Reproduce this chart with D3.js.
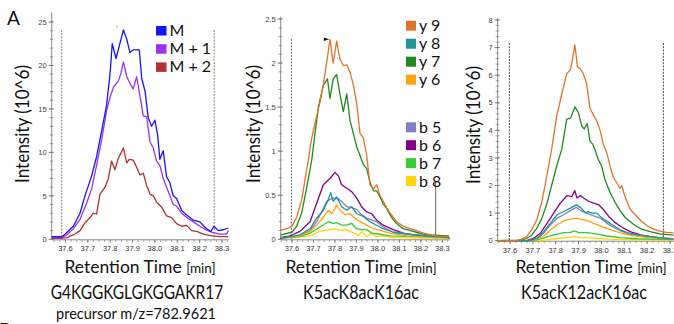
<!DOCTYPE html>
<html><head><meta charset="utf-8">
<script src="https://cdn.jsdelivr.net/npm/d3@7"></script>
<style>body{margin:0;background:#fff}svg{display:block}</style>
</head><body>
<svg id="c" width="674" height="324"></svg>
<script>
// ---------------- DATA ----------------
const xTickValues = [37.6, 37.7, 37.8, 37.9, 38.0, 38.1, 38.2, 38.3];
const xTickLabels = ["37.6", "37.7", "37.8", "37.9", "38.0", "38.1", "38.2", "38.3"];
const p1YTicks = [0, 5, 10, 15, 20, 25];
const p2YTicks = [0, 0.5, 1, 1.5, 2, 2.5];
const p2YLabels = ["0", "0.5", "1", "1.5", "2", "2.5"];
const p3YTicks = [0, 1, 2, 3, 4, 5, 6, 7, 8];

const p1Names = ["M", "M + 1", "M + 2"];
const p1Colors = ["#1414ff", "#9a33ec", "#b03232"];
const fragNamesY = ["y 9", "y 8", "y 7", "y 6"];
const fragNamesB = ["b 5", "b 6", "b 7", "b 8"];
const fragColorsY = ["#e0742c", "#1f9595", "#22891f", "#ffa30a"];
const fragColorsB = ["#7f7fc8", "#850085", "#35cc35", "#ffd500"];

const p1Bounds = [37.583, 38.265];
const p2Bounds = [37.597, 38.269];
const p3Bounds = [37.597, 38.271];
const p1Mark = [37.830];
const p2Arrow = [37.762, 2.27];

const p1M = [[37.538,0.3],[37.583,0.3],[37.599,0.6],[37.635,1.5],[37.665,3.0],[37.687,5.0],[37.717,7.3],[37.739,9.5],[37.762,12.5],[37.784,15.5],[37.799,19],[37.809,22.5],[37.826,20.8],[37.841,22.3],[37.859,24.1],[37.874,23],[37.888,21.5],[37.903,21.8],[37.930,21.8],[37.941,18.5],[37.956,17],[37.970,14],[37.985,13],[38.000,13.7],[38.012,12],[38.022,9.2],[38.037,10.2],[38.052,7.2],[38.067,6.5],[38.082,5],[38.097,4.7],[38.120,3.3],[38.142,2.8],[38.172,2.2],[38.201,2.0],[38.227,1.3],[38.250,0.9],[38.264,1.5],[38.283,1.0],[38.306,1.1],[38.328,1.3]];
const p1M1 = [[37.538,0.2],[37.583,0.2],[37.605,0.5],[37.635,1.2],[37.665,2.3],[37.695,4.2],[37.717,5.8],[37.739,8.5],[37.762,11.5],[37.784,14.8],[37.799,16.3],[37.814,17.5],[37.836,18.2],[37.847,19],[37.859,20.4],[37.874,18.7],[37.891,17.8],[37.903,17.3],[37.918,18.7],[37.933,16.5],[37.948,14.2],[37.963,14.1],[37.978,11.2],[37.993,10.5],[38.007,9.0],[38.022,8.5],[38.037,7.0],[38.052,6.0],[38.067,5.0],[38.082,4.0],[38.097,3.8],[38.120,3.0],[38.142,2.5],[38.172,2.0],[38.201,1.5],[38.227,1.1],[38.256,0.8],[38.291,0.6],[38.321,0.6],[38.328,1.0]];
const p1M2 = [[37.538,0.1],[37.583,0.1],[37.605,0.2],[37.635,0.5],[37.665,1.0],[37.687,1.9],[37.710,2.5],[37.724,3.0],[37.739,2.9],[37.754,5.2],[37.777,6.0],[37.792,7.0],[37.806,9.0],[37.821,8.0],[37.836,9.3],[37.859,10.5],[37.874,8.8],[37.885,9.2],[37.903,9.1],[37.918,8.3],[37.933,7.4],[37.948,7.6],[37.963,6.2],[37.978,5.2],[37.993,5.0],[38.007,4.3],[38.030,3.7],[38.052,2.7],[38.075,2.5],[38.097,1.8],[38.120,1.5],[38.142,1.6],[38.164,1.0],[38.187,0.9],[38.216,0.6],[38.256,0.4],[38.291,0.3],[38.328,0.3]];

const p2y9 = [[37.547,0.1],[37.575,0.12],[37.6,0.15],[37.622,0.25],[37.645,0.45],[37.668,0.78],[37.692,1.15],[37.715,1.4],[37.730,1.55],[37.746,1.75],[37.761,2.0],[37.777,2.27],[37.792,2.0],[37.808,2.25],[37.823,2.05],[37.839,1.97],[37.855,1.98],[37.870,1.9],[37.886,1.75],[37.901,1.55],[37.917,1.2],[37.932,1.15],[37.948,0.95],[37.963,0.62],[37.979,0.57],[37.994,0.62],[38.010,0.5],[38.025,0.43],[38.041,0.36],[38.056,0.3],[38.072,0.25],[38.087,0.2],[38.118,0.15],[38.149,0.12],[38.180,0.1],[38.212,0.07],[38.243,0.05],[38.274,0.04],[38.331,0.03]];
const p2y8 = [[37.544,0.01],[37.637,0.05],[37.684,0.12],[37.715,0.24],[37.746,0.33],[37.769,0.45],[37.780,0.53],[37.792,0.43],[37.808,0.48],[37.831,0.37],[37.855,0.33],[37.878,0.37],[37.901,0.29],[37.932,0.26],[37.963,0.2],[37.994,0.16],[38.025,0.12],[38.072,0.08],[38.134,0.06],[38.211,0.04],[38.335,0.02]];
const p2y7 = [[37.547,0.05],[37.6,0.08],[37.622,0.15],[37.645,0.3],[37.668,0.58],[37.692,0.9],[37.707,1.2],[37.723,1.5],[37.746,1.75],[37.765,1.82],[37.777,1.6],[37.792,1.82],[37.808,1.87],[37.823,1.65],[37.839,1.45],[37.855,1.65],[37.870,1.35],[37.886,1.2],[37.901,1.05],[37.917,0.95],[37.932,0.85],[37.948,0.8],[37.963,0.65],[37.979,0.55],[37.994,0.55],[38.010,0.48],[38.025,0.4],[38.041,0.35],[38.056,0.28],[38.072,0.22],[38.087,0.18],[38.118,0.12],[38.149,0.1],[38.180,0.08],[38.212,0.06],[38.243,0.05],[38.331,0.04]];
const p2y6 = [[37.544,0.01],[37.637,0.04],[37.684,0.09],[37.715,0.16],[37.746,0.25],[37.769,0.33],[37.785,0.29],[37.808,0.39],[37.823,0.33],[37.847,0.28],[37.870,0.29],[37.893,0.24],[37.916,0.2],[37.948,0.16],[37.979,0.12],[38.010,0.1],[38.056,0.07],[38.134,0.04],[38.335,0.02]];
const p2b5 = [[37.544,0.01],[37.637,0.04],[37.684,0.1],[37.715,0.2],[37.738,0.31],[37.761,0.43],[37.792,0.47],[37.816,0.46],[37.831,0.43],[37.855,0.37],[37.878,0.36],[37.901,0.34],[37.924,0.28],[37.948,0.24],[37.971,0.22],[37.994,0.2],[38.025,0.14],[38.072,0.08],[38.165,0.05],[38.335,0.02]];
const p2b6 = [[37.544,0.02],[37.591,0.04],[37.637,0.09],[37.684,0.2],[37.715,0.41],[37.746,0.62],[37.777,0.69],[37.800,0.76],[37.816,0.72],[37.831,0.62],[37.855,0.58],[37.878,0.54],[37.901,0.47],[37.924,0.37],[37.948,0.31],[37.971,0.29],[37.994,0.22],[38.025,0.16],[38.072,0.11],[38.118,0.07],[38.165,0.05],[38.242,0.04],[38.335,0.02]];
const p2b7 = [[37.544,0.01],[37.637,0.03],[37.684,0.07],[37.730,0.14],[37.769,0.2],[37.792,0.18],[37.808,0.19],[37.831,0.16],[37.855,0.16],[37.878,0.18],[37.901,0.12],[37.924,0.11],[37.948,0.11],[37.971,0.07],[38.002,0.06],[38.056,0.04],[38.335,0.02]];
const p2b8 = [[37.544,0.01],[37.684,0.04],[37.730,0.09],[37.777,0.11],[37.800,0.12],[37.831,0.1],[37.855,0.11],[37.878,0.08],[37.901,0.06],[37.909,0.04],[37.924,0.09],[37.948,0.03],[37.971,0.07],[37.994,0.03],[38.025,0.04],[38.072,0.02],[38.335,0.01]];

const p3y9 = [[37.546,0],[37.629,0.01],[37.651,0.05],[37.673,0.15],[37.695,0.4],[37.717,0.75],[37.739,1.4],[37.760,2.3],[37.782,3.3],[37.804,4.5],[37.826,5.3],[37.848,6.05],[37.865,6.2],[37.884,7.1],[37.895,6.3],[37.906,6.25],[37.921,6.05],[37.935,5.7],[37.950,4.8],[37.965,4.55],[37.979,4.35],[37.994,4.0],[38.008,3.5],[38.023,3.2],[38.038,2.7],[38.052,2.3],[38.067,2.1],[38.081,1.9],[38.089,2.0],[38.103,1.6],[38.125,1.15],[38.147,0.95],[38.169,0.75],[38.198,0.55],[38.227,0.42],[38.256,0.35],[38.285,0.3],[38.315,0.28]];
const p3y8 = [[37.546,0],[37.689,0],[37.718,0.09],[37.747,0.33],[37.776,0.63],[37.806,0.94],[37.835,1.06],[37.864,1.18],[37.890,1.3],[37.908,1.21],[37.925,1.06],[37.932,1.0],[37.940,1.06],[37.959,1.0],[37.981,1.0],[38.002,0.82],[38.024,0.7],[38.054,0.54],[38.083,0.39],[38.112,0.29],[38.156,0.21],[38.214,0.15],[38.272,0.09],[38.315,0.06]];
const p3y7 = [[37.546,0],[37.651,0.02],[37.673,0.08],[37.695,0.2],[37.717,0.45],[37.739,0.8],[37.760,1.3],[37.782,2.0],[37.804,2.7],[37.826,3.3],[37.848,4.4],[37.865,4.45],[37.884,4.85],[37.899,4.65],[37.914,4.15],[37.925,4.05],[37.938,4.25],[37.950,3.6],[37.962,3.5],[37.972,3.3],[37.986,2.95],[38.001,2.7],[38.016,2.2],[38.038,1.75],[38.059,1.4],[38.081,1.1],[38.103,0.85],[38.125,0.7],[38.147,0.55],[38.176,0.42],[38.213,0.33],[38.256,0.25],[38.315,0.2]];
const p3y6 = [[37.546,0],[37.704,0.02],[37.747,0.17],[37.776,0.39],[37.806,0.57],[37.835,0.72],[37.864,0.78],[37.890,0.82],[37.915,0.76],[37.937,0.74],[37.966,0.63],[37.995,0.54],[38.024,0.45],[38.054,0.36],[38.090,0.27],[38.126,0.19],[38.199,0.12],[38.315,0.06]];
const p3b5 = [[37.546,0],[37.689,0],[37.718,0.06],[37.747,0.27],[37.776,0.57],[37.806,0.82],[37.835,0.94],[37.864,1.09],[37.890,1.21],[37.915,1.06],[37.937,1.0],[37.966,0.9],[37.995,0.82],[38.024,0.63],[38.054,0.48],[38.083,0.36],[38.126,0.24],[38.199,0.15],[38.315,0.07]];
const p3b6 = [[37.546,0],[37.674,0],[37.704,0.09],[37.733,0.27],[37.762,0.63],[37.791,1.0],[37.820,1.36],[37.849,1.63],[37.871,1.6],[37.883,1.82],[37.893,1.55],[37.908,1.64],[37.922,1.55],[37.944,1.43],[37.966,1.36],[37.988,1.3],[38.010,1.12],[38.032,0.88],[38.054,0.7],[38.075,0.57],[38.097,0.45],[38.126,0.33],[38.170,0.21],[38.214,0.15],[38.258,0.09],[38.315,0.06]];
const p3b7 = [[37.546,0],[37.704,0],[37.747,0.09],[37.791,0.21],[37.835,0.29],[37.864,0.3],[37.883,0.36],[37.900,0.29],[37.937,0.29],[37.981,0.24],[38.024,0.17],[38.083,0.11],[38.156,0.07],[38.315,0.04]];
const p3b8 = [[37.546,0],[37.733,0],[37.791,0.07],[37.849,0.11],[37.883,0.15],[37.908,0.11],[37.966,0.09],[38.024,0.06],[38.126,0.04],[38.315,0.02]];

const peptideLabels = ["G4KGGKGLGKGGAKR17", "K5acK8acK16ac", "K5acK12acK16ac"];
const precursorLabel = "precursor m/z=782.9621";

// ---------------- DRAWING ----------------
const svg = d3.select("#c");
svg.append("rect").attr("width", 674).attr("height", 324).attr("fill", "#fff");
const TXT = "Lato, 'Open Sans', sans-serif";
const SMALL = "'Liberation Sans', Arial, sans-serif";

const panels = [
  { axX: 51.7, xr: [65.5, 222.0], right: 228.5, yr: [239.3, 22], yMax: 25, axTop: 12.5, ticks: p1YTicks, labels: p1YTicks.map(String), minor: 1,
    series: [p1M2, p1M1, p1M], colors: [p1Colors[2], p1Colors[1], p1Colors[0]], bounds: p1Bounds,
    boundTop: [30, 30], boundColor: "#777", intX: 22, intY: 124, rtX: 140, pepX: 137 },
  { axX: 280.7, xr: [292, 442.3], right: 449.5, yr: [239.3, 19], yMax: 2.5, axTop: 16.5, ticks: p2YTicks, labels: p2YLabels, minor: 0.1,
    series: [p2b8, p2b7, p2b6, p2b5, p2y6, p2y7, p2y8, p2y9],
    colors: [fragColorsB[3], fragColorsB[2], fragColorsB[1], fragColorsB[0], fragColorsY[3], fragColorsY[2], fragColorsY[1], fragColorsY[0]],
    bounds: p2Bounds, boundTop: [39, 182], boundColor: "#555", intX: 253, intY: 124, rtX: 361, pepX: 361 },
  { axX: 497.7, xr: [510, 670], right: 674, yr: [240.7, 20], yMax: 8, axTop: 18, ticks: p3YTicks, labels: p3YTicks.map(String), minor: 0.2,
    series: [p3b8, p3b7, p3b6, p3b5, p3y6, p3y7, p3y8, p3y9],
    colors: [fragColorsB[3], fragColorsB[2], fragColorsB[1], fragColorsB[0], fragColorsY[3], fragColorsY[2], fragColorsY[1], fragColorsY[0]],
    bounds: p3Bounds, boundTop: [43, 43], boundColor: "#333", intX: 473, intY: 125, rtX: 591, pepX: 584 }
];
const pepWidths = [172.4, 116, 126];

panels.forEach((p, pi) => {
  const x = d3.scaleLinear().domain([37.6, 38.3]).range(p.xr);
  const y = d3.scaleLinear().domain([0, p.yMax]).range(p.yr);
  const g = svg.append("g");
  const yb = p.yr[0];

  p.bounds.forEach((b, i) => {
    g.append("line").attr("x1", x(b)).attr("x2", x(b)).attr("y1", p.boundTop[i]).attr("y2", yb)
      .attr("stroke", p.boundColor).attr("stroke-width", 0.9)
      .attr("stroke-dasharray", (pi === 1 && i === 1) ? null : "2,1.2");
  });

  g.append("line").attr("x1", p.axX).attr("x2", p.axX).attr("y1", p.axTop).attr("y2", yb + 0.5).attr("stroke", "#8a8a8a").attr("stroke-width", 1);
  g.append("line").attr("x1", p.axX).attr("x2", p.right).attr("y1", yb + 0.5).attr("y2", yb + 0.5).attr("stroke", "#8a8a8a").attr("stroke-width", 1);

  const nMinor = Math.round(p.yMax / p.minor);
  d3.range(0, nMinor + 1).forEach(k => {
    const v = k * p.minor;
    g.append("line").attr("x1", p.axX - 2).attr("x2", p.axX + 1.5).attr("y1", y(v)).attr("y2", y(v)).attr("stroke", "#8a8a8a").attr("stroke-width", 0.8);
  });
  p.ticks.forEach((t, i) => {
    g.append("line").attr("x1", p.axX - 3).attr("x2", p.axX + 2).attr("y1", y(t)).attr("y2", y(t)).attr("stroke", "#777").attr("stroke-width", 0.9);
    g.append("text").attr("x", p.axX - 5).attr("y", y(t) + 2.7).attr("text-anchor", "end")
      .attr("font-family", SMALL).attr("font-size", 7.5).attr("fill", "#444").text(p.labels[i]);
  });

  const xmin = x.invert(p.axX), xmax = x.invert(p.right);
  d3.range(Math.ceil(xmin / 0.025) * 0.025, xmax, 0.025).forEach(v => {
    g.append("line").attr("x1", x(v)).attr("x2", x(v)).attr("y1", yb + 0.5).attr("y2", yb + 2.5).attr("stroke", "#8a8a8a").attr("stroke-width", 0.8);
  });
  xTickValues.forEach((t, i) => {
    g.append("line").attr("x1", x(t)).attr("x2", x(t)).attr("y1", yb + 0.5).attr("y2", yb + 3.5).attr("stroke", "#777").attr("stroke-width", 0.9);
    g.append("text").attr("x", x(t)).attr("y", yb + 12).attr("text-anchor", "middle")
      .attr("font-family", SMALL).attr("font-size", 7.5).attr("fill", "#333").text(xTickLabels[i]);
  });

  const line = d3.line().x(d => x(d[0])).y(d => y(d[1]));
  p.series.forEach((s, i) => {
    g.append("path").attr("d", line(s)).attr("fill", "none").attr("stroke", p.colors[i])
      .attr("stroke-width", 1.3).attr("stroke-linejoin", "round");
  });

  g.append("text").attr("transform", `translate(${p.intX + 7},${p.intY}) rotate(-90)`)
    .attr("text-anchor", "middle").attr("font-family", TXT).attr("font-size", 19.5).attr("fill", "#111")
    .attr("textLength", 118).attr("lengthAdjust", "spacingAndGlyphs").text("Intensity (10^6)");

  const rt = g.append("text").attr("x", p.rtX).attr("y", 272.5).attr("text-anchor", "middle")
    .attr("font-family", TXT).attr("font-size", 17.5).attr("fill", "#111");
  rt.append("tspan").text("Retention Time ");
  rt.append("tspan").attr("font-size", 13.5).text("[min]");

  g.append("text").attr("x", p.pepX).attr("y", 298.5).attr("text-anchor", "middle").attr("font-family", TXT).attr("font-size", 19).attr("fill", "#111")
    .attr("textLength", pepWidths[pi]).attr("lengthAdjust", "spacingAndGlyphs").text(peptideLabels[pi]);

  if (pi === 0) {
    g.append("line").attr("x1", x(p1Mark[0])).attr("x2", x(p1Mark[0])).attr("y1", 25).attr("y2", 28)
      .attr("stroke", "#aaa").attr("stroke-width", 0.8);
  }
  if (pi === 1) {
    const ax = x(p2Arrow[0]), ay = y(p2Arrow[1]);
    g.append("path").attr("d", `M${ax - 3},${ay - 1.8} L${ax + 2.5},${ay} L${ax - 3},${ay + 1.8} Z`).attr("fill", "#111");
  }
});

svg.append("text").attr("x", 136).attr("y", 319).attr("text-anchor", "middle").attr("font-family", TXT).attr("font-size", 15).attr("fill", "#111")
  .attr("textLength", 160).attr("lengthAdjust", "spacingAndGlyphs").text(precursorLabel);

svg.append("text").attr("x", 7).attr("y", 25).attr("font-family", TXT).attr("font-size", 19).attr("fill", "#111").text("A");
svg.append("text").attr("x", -1).attr("y", 337).attr("font-family", TXT).attr("font-size", 19).attr("fill", "#111").text("B");

const leg1 = svg.append("g");
p1Names.forEach((n, i) => {
  leg1.append("rect").attr("x", 156).attr("y", 26 + i * 18.2).attr("width", 10.5).attr("height", 9.5).attr("fill", p1Colors[i]);
  leg1.append("text").attr("x", 169.5).attr("y", 36 + i * 18.2).attr("font-family", TXT).attr("font-size", 16).attr("fill", "#111").text(n);
});
const leg2 = svg.append("g");
const legY = [20.7, 38.7, 56.7, 74.7, 122.3, 140.2, 158.1, 176];
fragNamesY.concat(fragNamesB).forEach((n, i) => {
  const col = fragColorsY.concat(fragColorsB)[i];
  leg2.append("rect").attr("x", 406).attr("y", legY[i]).attr("width", 10).attr("height", 10).attr("fill", col);
  leg2.append("text").attr("x", 419).attr("y", legY[i] + 10.5).attr("font-family", TXT).attr("font-size", 16).attr("fill", "#111").text(n);
});
</script>
</body></html>
